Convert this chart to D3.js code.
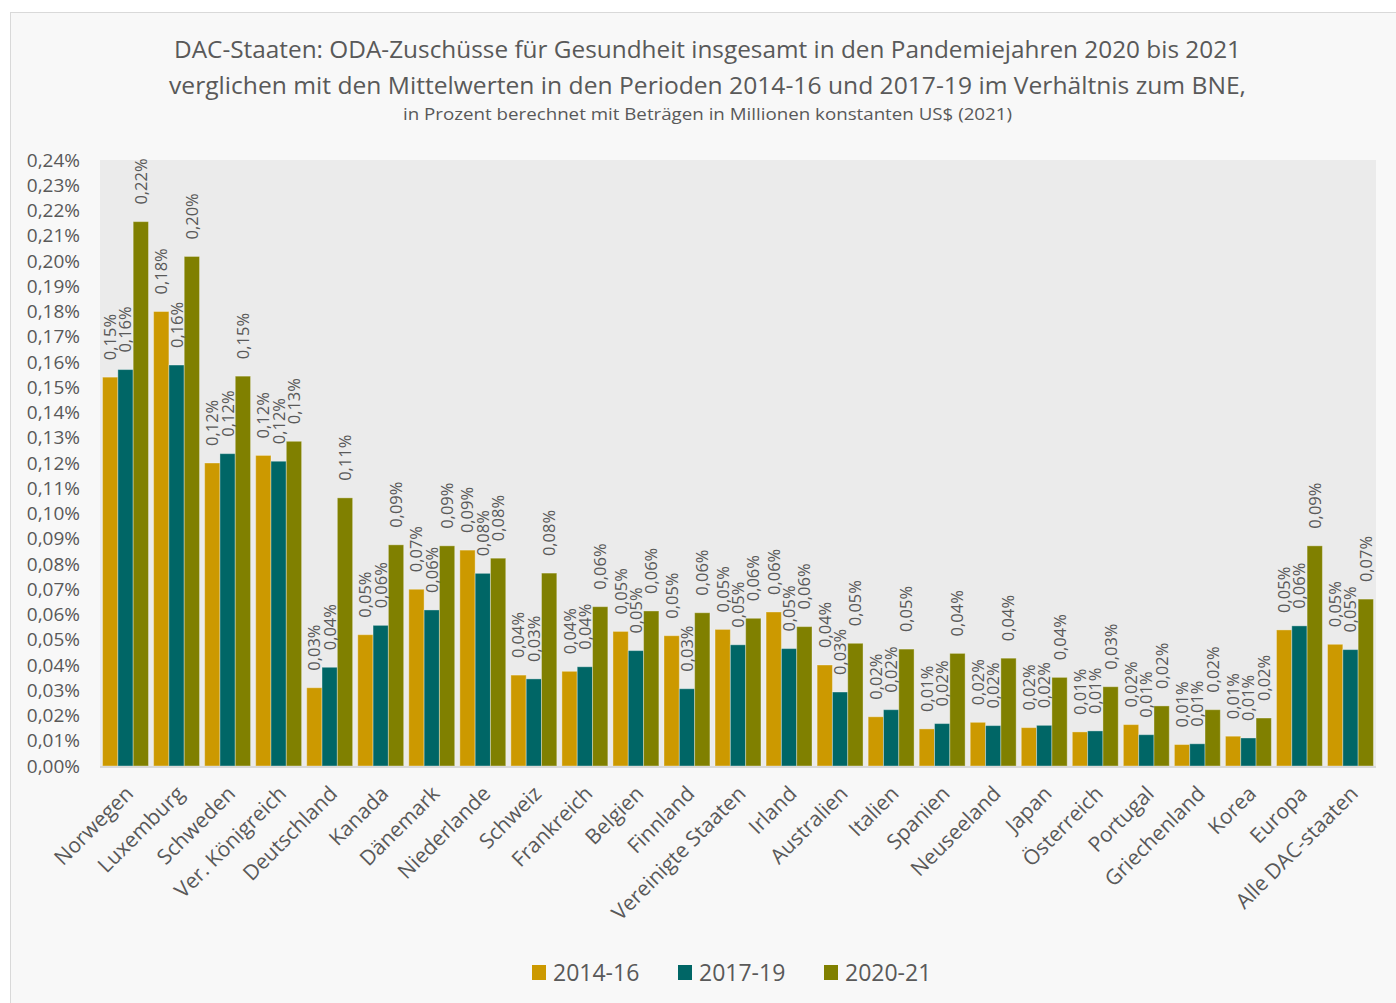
<!DOCTYPE html>
<html>
<head>
<meta charset="utf-8">
<script src="https://cdnjs.cloudflare.com/ajax/libs/d3/7.8.5/d3.min.js"></script>
<style>
  body { margin: 0; background: #ffffff; }
  svg text { font-family: "Open Sans", "DejaVu Sans", sans-serif; }
</style>
</head>
<body>
<div id="chart"></div>
<script>
// Data (percent of GNI)
const countries = ["Norwegen", "Luxemburg", "Schweden", "Ver. Königreich", "Deutschland", "Kanada",
  "Dänemark", "Niederlande", "Schweiz", "Frankreich", "Belgien", "Finnland", "Vereinigte Staaten",
  "Irland", "Australien", "Italien", "Spanien", "Neuseeland", "Japan", "Österreich", "Portugal",
  "Griechenland", "Korea", "Europa", "Alle DAC-staaten"];
const seriesNames = ["2014-16", "2017-19", "2020-21"];
const colors = ["#cc9900", "#006666", "#808000"];

const values1416 = [0.154, 0.180, 0.120, 0.123, 0.031, 0.052, 0.070, 0.0855, 0.036, 0.0375, 0.0533, 0.0516,
  0.0541, 0.061, 0.040, 0.0195, 0.0147, 0.0173, 0.0152, 0.0135, 0.0164, 0.0085, 0.0118, 0.0539, 0.0482];
const values1719 = [0.157, 0.1588, 0.1237, 0.1207, 0.0391, 0.0557, 0.0618, 0.0763, 0.0345, 0.0393, 0.0457, 0.0306,
  0.048, 0.0465, 0.0293, 0.0223, 0.0168, 0.016, 0.0161, 0.0139, 0.0124, 0.0088, 0.0111, 0.0555, 0.0461];
const values2021 = [0.2156, 0.2018, 0.1544, 0.1286, 0.1062, 0.0876, 0.0872, 0.0823, 0.0764, 0.0631, 0.0614, 0.0607,
  0.0585, 0.0552, 0.0486, 0.0463, 0.0446, 0.0427, 0.0351, 0.0314, 0.0238, 0.0223, 0.019, 0.0872, 0.0661];

const yTicks = d3.range(0, 25).map(d => d / 100);

const titleLines = [
  "DAC-Staaten: ODA-Zuschüsse für Gesundheit insgesamt in den Pandemiejahren 2020 bis 2021",
  "verglichen mit den Mittelwerten in den Perioden 2014-16 und 2017-19 im Verhältnis zum BNE,"
];
const subtitle = "in Prozent berechnet mit Beträgen in Millionen konstanten US$ (2021)";

const allSeries = [values1416, values1719, values2021];
const rows = countries.map((c, i) => ({
  country: c,
  values: allSeries.map((s, k) => ({ key: seriesNames[k], k: k, value: s[i] }))
}));

// Layout
const width = 1396, height = 1003;
const plot = { left: 100, right: 1376, top: 160, bottom: 766 };
const textColor = "#595959";

const svg = d3.select("#chart").append("svg")
  .attr("width", width)
  .attr("height", height);

// chart background + border
svg.append("rect")
  .attr("x", 10.5).attr("y", 12.5)
  .attr("width", width + 20).attr("height", height + 20)
  .attr("fill", "#f8f8f8")
  .attr("stroke", "#d9d9d9");

svg.append("rect")
  .attr("x", plot.left).attr("y", plot.top)
  .attr("width", plot.right - plot.left).attr("height", plot.bottom - plot.top)
  .attr("fill", "#ebebeb");

const fmt = v => d3.format(".2f")(v).replace(".", ",") + "%";

// Scales
const x0 = d3.scaleBand().domain(countries)
  .range([plot.left, plot.right]).paddingInner(0.1).paddingOuter(0.05);
const x1 = d3.scaleBand().domain(seriesNames).range([0, x0.bandwidth()]);
const y = d3.scaleLinear().domain([0, 0.24]).range([plot.bottom, plot.top]);

// Title
const titleSizes = [{ y: 58, size: 23, len: 1067, text: titleLines[0] },
  { y: 94, size: 23, len: 1077, text: titleLines[1] },
  { y: 120, size: 16, len: 609, text: subtitle }];
svg.selectAll("text.title").data(titleSizes).join("text")
  .attr("class", "title")
  .attr("x", 707.5).attr("y", d => d.y)
  .attr("text-anchor", "middle")
  .attr("font-size", d => d.size)
  .attr("fill", textColor)
  .attr("textLength", d => d.len)
  .attr("lengthAdjust", "spacingAndGlyphs")
  .text(d => d.text);

// Y axis
const yAxis = svg.append("g")
  .attr("transform", `translate(${plot.left - 20},0)`)
  .call(d3.axisLeft(y).tickValues(yTicks).tickFormat(d => fmt(d)).tickSize(0).tickPadding(0));
yAxis.select(".domain").remove();
yAxis.selectAll("text").attr("font-size", 19).attr("fill", textColor)
  .style("font-family", "'Open Sans', sans-serif");

// Bars
const groups = svg.append("g").selectAll("g").data(rows).join("g")
  .attr("transform", d => `translate(${x0(d.country)},0)`);

groups.selectAll("rect").data(d => d.values).join("rect")
  .attr("x", d => x1(d.key))
  .attr("y", d => y(d.value))
  .attr("width", x1.bandwidth())
  .attr("height", d => y(0) - y(d.value))
  .attr("fill", d => colors[d.k])
  .attr("stroke", "rgba(255,255,255,0.35)")
  .attr("stroke-width", 1);

groups.selectAll("text").data(d => d.values).join("text")
  .attr("transform", d => `translate(${x1(d.key) + x1.bandwidth() / 2},${y(d.value) - 17}) rotate(-90)`)
  .attr("dy", "0.36em")
  .attr("font-size", 16.5)
  .attr("fill", textColor)
  .text(d => fmt(d.value));

// baseline
svg.append("line")
  .attr("x1", plot.left).attr("x2", plot.right)
  .attr("y1", plot.bottom + 1).attr("y2", plot.bottom + 1)
  .attr("stroke", "#d9d9d9").attr("stroke-width", 2);

// X axis labels
svg.append("g").selectAll("text").data(countries).join("text")
  .attr("transform", d => `translate(${x0(d) + x0.bandwidth() / 2 + 9},${plot.bottom + 29}) rotate(-45)`)
  .attr("text-anchor", "end")
  .attr("font-size", 21)
  .attr("fill", textColor)
  .text(d => d);

// Legend
const legend = svg.append("g").selectAll("g").data(seriesNames).join("g")
  .attr("transform", (d, i) => `translate(${532 + i * 146},965)`);
legend.append("rect")
  .attr("width", 14).attr("height", 15)
  .attr("fill", (d, i) => colors[i]);
legend.append("text")
  .attr("x", 21).attr("y", 16)
  .attr("font-size", 23)
  .attr("fill", textColor)
  .text(d => d);
</script>
</body>
</html>
